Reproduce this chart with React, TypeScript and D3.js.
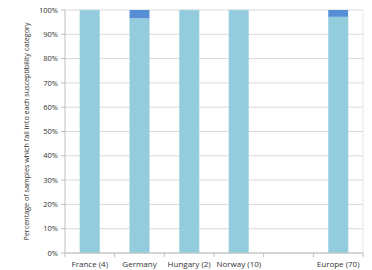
import { useEffect, useRef } from "react";
import * as d3 from "d3";

const categories = ["France (4)", "Germany", "Hungary (2)", "Norway (10)", "", "Europe (70)"];
const susceptible = [100, 96.6, 100, 100, null, 97.2];
const intermediate = [0, 3.4, 0, 0, null, 2.8];
const yTicks = [0, 10, 20, 30, 40, 50, 60, 70, 80, 90, 100];

const App = () => {
  const ref = useRef<SVGSVGElement>(null);

  useEffect(() => {
    const svg = d3.select(ref.current);
    svg.selectAll("*").remove();

    const margin = { top: 10, right: 9, bottom: 17, left: 65 };
    const width = 372 - margin.left - margin.right;
    const height = 270 - margin.top - margin.bottom;
    const font = "'Open Sans', sans-serif";

    const x = d3.scaleBand().domain(categories.map((c, i) => String(i))).range([0, width]).paddingInner(0.6).paddingOuter(0.3);
    const xOuter = d3.scaleBand().domain(categories.map((c, i) => String(i))).range([0, width]);
    const y = d3.scaleLinear().domain([0, 100]).range([height, 0]);

    const g = svg.append("g").attr("transform", `translate(${margin.left},${margin.top})`);

    g.selectAll(".grid")
      .data(yTicks)
      .enter()
      .append("line")
      .attr("x1", 0)
      .attr("x2", width)
      .attr("y1", (d) => y(d))
      .attr("y2", (d) => y(d))
      .attr("stroke", "#d9d9d9")
      .attr("stroke-width", 1);

    g.append("line")
      .attr("x1", width).attr("x2", width)
      .attr("y1", 0).attr("y2", height)
      .attr("stroke", "#e6e6e6");

    const rows = categories.map((c, i) => ({ key: String(i), s: susceptible[i], m: intermediate[i] }))
      .filter((d) => d.s !== null);

    g.selectAll(".bar-s")
      .data(rows)
      .enter()
      .append("rect")
      .attr("x", (d) => x(d.key)!)
      .attr("width", x.bandwidth())
      .attr("y", (d) => y(d.s as number))
      .attr("height", (d) => height - y(d.s as number))
      .attr("fill", "#93cddd")
      .attr("stroke", "#b7dee8")
      .attr("stroke-width", 0.5);

    g.selectAll(".bar-m")
      .data(rows.filter((d) => (d.m as number) > 0))
      .enter()
      .append("rect")
      .attr("x", (d) => x(d.key)!)
      .attr("width", x.bandwidth())
      .attr("y", (d) => y((d.s as number) + (d.m as number)))
      .attr("height", (d) => y(d.s as number) - y((d.s as number) + (d.m as number)))
      .attr("fill", "#558ed5");

    // axes
    g.append("line")
      .attr("x1", 0).attr("x2", 0)
      .attr("y1", 0).attr("y2", height)
      .attr("stroke", "#bfbfbf");
    g.append("line")
      .attr("x1", 0).attr("x2", width)
      .attr("y1", height).attr("y2", height)
      .attr("stroke", "#bfbfbf");

    g.selectAll(".ytick")
      .data(yTicks)
      .enter()
      .append("line")
      .attr("x1", -4).attr("x2", 0)
      .attr("y1", (d) => y(d)).attr("y2", (d) => y(d))
      .attr("stroke", "#bfbfbf");

    g.selectAll(".ylab")
      .data(yTicks)
      .enter()
      .append("text")
      .attr("x", -7)
      .attr("y", (d) => y(d))
      .attr("dy", "0.35em")
      .attr("text-anchor", "end")
      .style("font-family", font)
      .style("font-size", "7.5px")
      .style("fill", "#333")
      .text((d) => `${d}%`);

    const bounds = categories.map((c, i) => xOuter(String(i))!).concat([width]);
    g.selectAll(".xtick")
      .data(bounds)
      .enter()
      .append("line")
      .attr("x1", (d) => d).attr("x2", (d) => d)
      .attr("y1", height).attr("y2", height + 4)
      .attr("stroke", "#bfbfbf");

    g.selectAll(".xlab")
      .data(categories)
      .enter()
      .append("text")
      .attr("x", (d, i) => xOuter(String(i))! + xOuter.bandwidth() / 2)
      .attr("y", height + 14)
      .attr("text-anchor", "middle")
      .style("font-family", font)
      .style("font-size", "8px")
      .style("fill", "#333")
      .text((d) => d);

    svg.append("text")
      .attr("transform", `translate(29,${margin.top + height / 2}) rotate(-90)`)
      .attr("text-anchor", "middle")
      .style("font-family", font)
      .style("font-size", "7.2px")
      .style("fill", "#333")
      .text("Percentage of samples which fall into each susceptibility category");
  }, []);

  return (
    <svg ref={ref} width={372} height={270} style={{ position: "absolute", left: 0, top: 0, background: "#fff" }} />
  );
};

export default App;
